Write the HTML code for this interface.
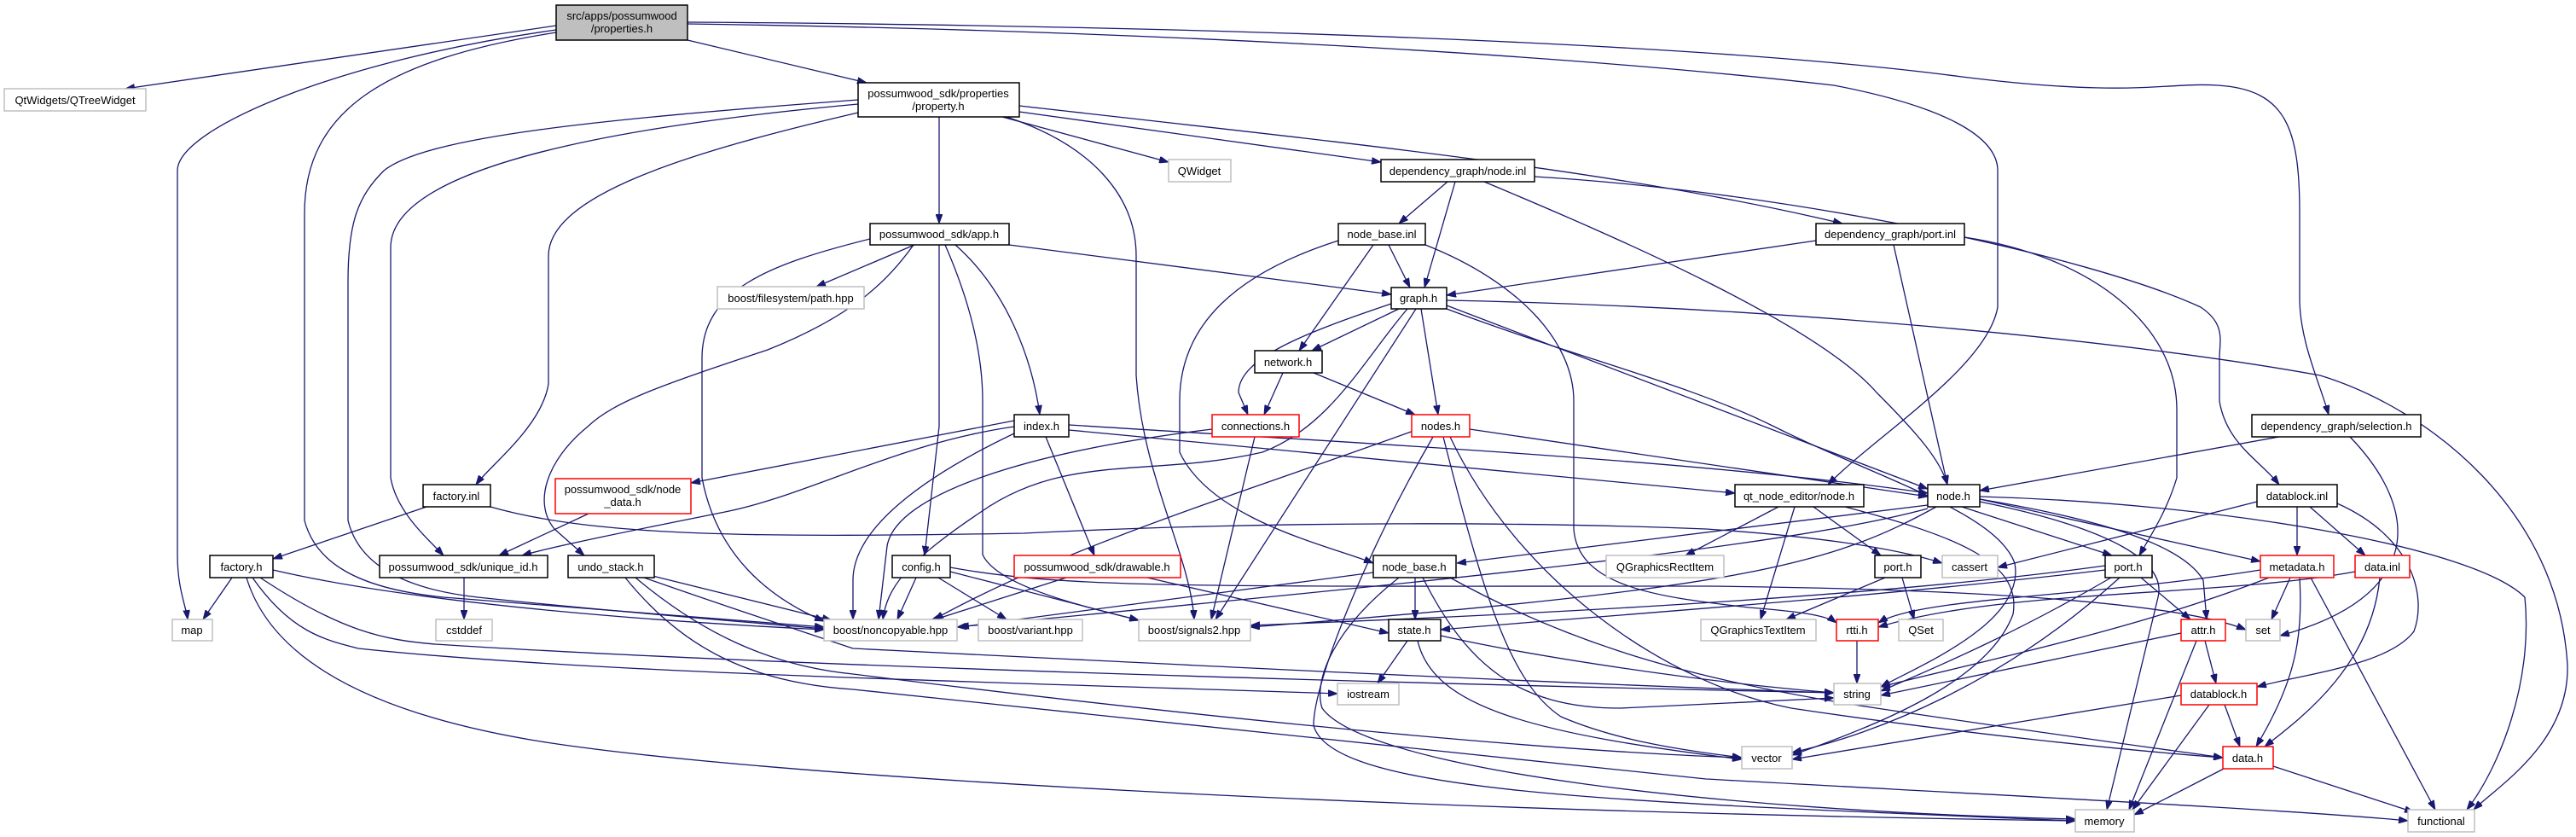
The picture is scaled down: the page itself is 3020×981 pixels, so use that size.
<!DOCTYPE html>
<html><head><meta charset="utf-8"><style>
html,body{margin:0;padding:0;background:#fff;}
svg{display:block}
text{font-family:"Liberation Sans",Arial,sans-serif;font-size:13px;fill:#000}
.e{fill:none;stroke:#191970;stroke-width:1.3}
.b{fill:#fff;stroke:#000;stroke-width:1.5}
.g{fill:#fff;stroke:#bfbfbf;stroke-width:1.5}
.r{fill:#fff;stroke:#ff0000;stroke-width:1.5}
</style></head><body>
<svg width="3020" height="981" viewBox="0 0 3020 981" xmlns="http://www.w3.org/2000/svg">
<defs><marker id="a" viewBox="0 0 10 10" refX="10" refY="5" markerWidth="11" markerHeight="8" markerUnits="userSpaceOnUse" orient="auto" preserveAspectRatio="none"><path d="M0,0 L10,5 L0,10 z" fill="#191970" stroke="#191970"/></marker></defs>
<g class="e" marker-end="url(#a)">
<path d="M652,30 L147,104"/>
<path d="M806,47 L1016,97"/>
<path d="M652,35 C400,70 208,150 208,200 L208,650 C208,690 218,710 220,726"/>
<path d="M652,38 C450,70 357,130 357,250 L357,610 C370,660 420,690 520,700 C700,715 850,725 966,735"/>
<path d="M1006,117 C700,140 500,160 450,200 C420,230 408,260 408,330 L408,610 C420,660 470,690 560,700 C700,715 850,727 966,737"/>
<path d="M1006,122 C700,150 458,200 458,290 L458,560 C465,600 500,630 520,651"/>
<path d="M1006,132 C800,180 643,230 643,300 L643,450 C635,500 575,545 558,568"/>
<path d="M1101,137 L1101,262"/>
<path d="M1175,137 L1370,190"/>
<path d="M1195,131 L1619,190"/>
<path d="M1195,124 C1600,170 1900,200 2160,262"/>
<path d="M1180,137 C1280,170 1332,230 1332,300 L1332,440 C1340,560 1395,650 1400,726"/>
<path d="M806,28 C1300,35 1800,60 2150,100 C2280,125 2342,160 2342,200 L2342,360 C2330,430 2200,510 2143,568"/>
<path d="M806,26 C1400,30 2000,50 2300,90 C2500,115 2540,96 2600,100 C2680,105 2696,150 2696,250 L2696,350 C2696,400 2720,450 2730,486"/>
<path d="M1697,213 L1640,262"/>
<path d="M1706,213 L1670,337"/>
<path d="M1740,213 C1900,280 2130,380 2200,460 C2250,510 2275,540 2283,568"/>
<path d="M1799,207 C2100,225 2450,300 2580,360 C2610,380 2602,400 2602,420 L2602,470 C2610,520 2650,540 2672,568"/>
<path d="M1628,287 L1653,337"/>
<path d="M1610,287 L1523,411"/>
<path d="M1569,282 C1450,320 1383,380 1383,470 L1383,530 C1420,610 1560,640 1610,660"/>
<path d="M1671,287 C1780,330 1845,400 1845,470 L1845,620 C1850,690 1950,700 2050,712 C2100,716 2140,720 2153,730"/>
<path d="M2129,282 L1696,346"/>
<path d="M2220,287 L2283,568"/>
<path d="M2303,278 C2450,300 2552,380 2552,480 L2552,560 C2540,600 2520,630 2508,651"/>
<path d="M1183,287 L1631,345"/>
<path d="M1072,287 L957,336"/>
<path d="M1020,280 C900,310 823,340 823,420 L823,560 C840,650 900,700 966,728"/>
<path d="M1071,287 C1040,330 1000,370 900,410 C780,450 720,470 689,500 C640,540 625,590 650,620 L685,651"/>
<path d="M1101,287 L1101,500 L1084,651"/>
<path d="M1108,287 C1140,360 1152,420 1152,470 L1152,650 C1170,690 1290,715 1335,727"/>
<path d="M1120,287 C1180,340 1210,420 1219,486"/>
<path d="M1640,362 L1538,411"/>
<path d="M1631,356 C1530,390 1452,420 1452,460 L1463,486"/>
<path d="M1666,362 L1686,486"/>
<path d="M1696,358 L2260,573"/>
<path d="M1696,362 C1850,420 1980,450 2080,500 C2200,560 2340,600 2362,660 C2375,730 2250,780 2205,805"/>
<path d="M1696,352 C2100,360 2500,400 2720,440 C2850,480 3000,600 3010,780 C3012,870 2930,920 2900,949"/>
<path d="M1660,362 L1425,726"/>
<path d="M1650,362 C1600,420 1560,500 1480,530 C1350,560 1250,530 1150,600 C1060,660 1040,690 1035,726"/>
<path d="M1504,437 L1482,486"/>
<path d="M1540,437 L1659,486"/>
<path d="M1471,512 L1420,726"/>
<path d="M1421,503 C1200,530 1050,580 1040,640 L1030,726"/>
<path d="M1723,503 L2260,582"/>
<path d="M1657,505 C1450,580 1250,640 1095,726"/>
<path d="M1680,512 C1600,650 1540,800 1540,850 C1560,930 1900,940 2433,962"/>
<path d="M1692,512 C1740,700 1770,800 1830,840 C1900,870 1980,880 2042,888"/>
<path d="M1700,512 C1780,680 1950,800 2100,830 C2300,860 2500,880 2606,888"/>
<path d="M1189,493 L810,566"/>
<path d="M1189,500 C1050,520 950,580 850,600 C750,620 650,640 612,651"/>
<path d="M1189,508 C1080,560 1000,620 1000,680 L1000,726"/>
<path d="M1226,512 L1283,651"/>
<path d="M1253,498 C1600,520 2000,540 2260,578"/>
<path d="M1253,504 L2034,578"/>
<path d="M690,602 L585,651"/>
<path d="M500,594 L320,655"/>
<path d="M575,594 C700,630 900,630 1200,625 C1500,610 1800,612 2000,620 C2150,630 2230,645 2277,660"/>
<path d="M272,677 L238,726"/>
<path d="M320,668 C500,710 800,730 966,738"/>
<path d="M305,677 C400,740 450,750 510,755 C900,780 1600,800 2150,812"/>
<path d="M296,677 C340,740 380,750 420,760 C700,790 1200,800 1568,813"/>
<path d="M289,677 C320,780 450,840 640,870 C900,910 1600,950 2433,962"/>
<path d="M544,677 L544,726"/>
<path d="M765,675 L975,727"/>
<path d="M755,677 C820,700 880,720 1000,760 C1400,780 1800,800 2150,812"/>
<path d="M745,677 C820,740 900,780 1000,790 C1400,840 1800,880 2042,888"/>
<path d="M733,677 C800,760 880,800 1000,808 C1400,850 1800,890 2000,913 C2400,935 2700,950 2823,962"/>
<path d="M1074,677 L1052,726"/>
<path d="M1100,677 L1180,726"/>
<path d="M1114,670 L1335,727"/>
<path d="M1114,665 C1250,690 1400,687 2000,687 C2300,690 2550,705 2633,738"/>
<path d="M1250,677 L1090,728"/>
<path d="M1345,677 L1628,742"/>
<path d="M1610,671 L1125,735"/>
<path d="M1659,677 L1659,726"/>
<path d="M1640,677 C1560,740 1540,800 1550,830 C1600,900 2000,950 2433,960"/>
<path d="M1668,677 C1720,780 1780,830 1900,830 L2150,818"/>
<path d="M1700,677 C1850,760 2000,800 2200,830 C2400,860 2550,880 2606,888"/>
<path d="M1650,751 L1615,801"/>
<path d="M1689,745 C1800,770 2000,800 2150,812"/>
<path d="M1662,751 C1680,830 1800,860 2042,890"/>
<path d="M2085,594 L1976,651"/>
<path d="M2104,594 L2064,726"/>
<path d="M2126,594 L2205,651"/>
<path d="M2163,594 C2300,630 2370,660 2360,720 C2330,800 2200,850 2101,885"/>
<path d="M2260,592 L1708,660"/>
<path d="M2300,594 L2476,651"/>
<path d="M2321,585 L2650,658"/>
<path d="M2321,585 C2470,610 2560,640 2583,680 L2587,726"/>
<path d="M2321,588 C2480,620 2540,660 2530,700 L2470,949"/>
<path d="M2321,582 C2600,590 2900,640 2960,700 C2970,800 2930,900 2892,949"/>
<path d="M2260,596 C2100,640 1700,680 1122,735"/>
<path d="M2270,594 C2150,660 2050,690 1466,735"/>
<path d="M2210,677 L2094,726"/>
<path d="M2230,677 L2244,726"/>
<path d="M2510,677 L2568,726"/>
<path d="M2475,677 C2350,750 2250,790 2205,810"/>
<path d="M2485,677 C2350,800 2200,860 2101,882"/>
<path d="M2468,663 C2200,700 1800,720 1466,733"/>
<path d="M2468,668 C2200,700 1900,720 1689,738"/>
<path d="M2685,677 L2663,726"/>
<path d="M2660,677 C2500,740 2300,780 2205,805"/>
<path d="M2696,677 C2700,750 2690,800 2645,875"/>
<path d="M2709,677 L2855,949"/>
<path d="M2650,668 C2450,700 2250,700 2202,730"/>
<path d="M2790,677 C2780,780 2700,840 2655,875"/>
<path d="M2761,670 C2600,700 2350,690 2202,735"/>
<path d="M2693,594 L2693,651"/>
<path d="M2708,594 L2773,651"/>
<path d="M2646,588 L2342,665"/>
<path d="M2740,590 C2830,630 2845,700 2830,740 C2800,780 2700,790 2646,805"/>
<path d="M2672,512 L2321,575"/>
<path d="M2755,512 C2840,600 2840,700 2673,745"/>
<path d="M2585,751 L2598,801"/>
<path d="M2575,751 L2496,949"/>
<path d="M2557,742 L2205,815"/>
<path d="M2177,751 L2177,801"/>
<path d="M2608,826 L2626,875"/>
<path d="M2590,826 L2500,949"/>
<path d="M2557,815 L2101,890"/>
<path d="M2607,901 L2502,955"/>
<path d="M2665,898 L2830,952"/>
</g>
<g>
<rect x="652" y="6" width="154" height="41" fill="#bfbfbf" stroke="#000" stroke-width="1.5"/>
<text x="729" y="23" text-anchor="middle">src/apps/possumwood</text><text x="729" y="38" text-anchor="middle">/properties.h</text>
<rect class="g" x="5" y="104" width="166" height="26"/><text x="88" y="122" text-anchor="middle">QtWidgets/QTreeWidget</text>
<rect class="g" x="841" y="336" width="172" height="26"/><text x="927" y="354" text-anchor="middle">boost/filesystem/path.hpp</text>
<rect class="b" x="1006" y="97" width="189" height="40"/><text x="1100" y="114" text-anchor="middle">possumwood_sdk/properties</text><text x="1100" y="129" text-anchor="middle">/property.h</text>
<rect class="g" x="1370" y="187" width="73" height="26"/><text x="1406" y="205" text-anchor="middle">QWidget</text>
<rect class="b" x="1619" y="187" width="180" height="26"/><text x="1709" y="205" text-anchor="middle">dependency_graph/node.inl</text>
<rect class="b" x="1020" y="262" width="163" height="25"/><text x="1101" y="279" text-anchor="middle">possumwood_sdk/app.h</text>
<rect class="b" x="1569" y="262" width="102" height="25"/><text x="1620" y="279" text-anchor="middle">node_base.inl</text>
<rect class="b" x="2129" y="262" width="174" height="25"/><text x="2216" y="279" text-anchor="middle">dependency_graph/port.inl</text>
<rect class="b" x="1631" y="337" width="65" height="25"/><text x="1663" y="354" text-anchor="middle">graph.h</text>
<rect class="b" x="1471" y="411" width="79" height="26"/><text x="1510" y="429" text-anchor="middle">network.h</text>
<rect class="r" x="1421" y="486" width="102" height="26"/><text x="1472" y="504" text-anchor="middle">connections.h</text>
<rect class="r" x="1655" y="486" width="68" height="26"/><text x="1689" y="504" text-anchor="middle">nodes.h</text>
<rect class="b" x="1189" y="486" width="64" height="26"/><text x="1221" y="504" text-anchor="middle">index.h</text>
<rect class="b" x="2640" y="486" width="198" height="26"/><text x="2739" y="504" text-anchor="middle">dependency_graph/selection.h</text>
<rect class="b" x="496" y="568" width="79" height="26"/><text x="535" y="586" text-anchor="middle">factory.inl</text>
<rect class="r" x="651" y="561" width="159" height="41"/><text x="730" y="578" text-anchor="middle">possumwood_sdk/node</text><text x="730" y="593" text-anchor="middle">_data.h</text>
<rect class="b" x="2034" y="568" width="151" height="26"/><text x="2109" y="586" text-anchor="middle">qt_node_editor/node.h</text>
<rect class="b" x="2260" y="568" width="61" height="26"/><text x="2290" y="586" text-anchor="middle">node.h</text>
<rect class="b" x="2646" y="568" width="94" height="26"/><text x="2693" y="586" text-anchor="middle">datablock.inl</text>
<rect class="b" x="246" y="651" width="74" height="26"/><text x="283" y="669" text-anchor="middle">factory.h</text>
<rect class="b" x="445" y="651" width="197" height="26"/><text x="543" y="669" text-anchor="middle">possumwood_sdk/unique_id.h</text>
<rect class="b" x="666" y="651" width="101" height="26"/><text x="716" y="669" text-anchor="middle">undo_stack.h</text>
<rect class="b" x="1046" y="651" width="68" height="26"/><text x="1080" y="669" text-anchor="middle">config.h</text>
<rect class="r" x="1189" y="651" width="195" height="26"/><text x="1286" y="669" text-anchor="middle">possumwood_sdk/drawable.h</text>
<rect class="b" x="1610" y="651" width="97" height="26"/><text x="1658" y="669" text-anchor="middle">node_base.h</text>
<rect class="g" x="1883" y="651" width="138" height="26"/><text x="1952" y="669" text-anchor="middle">QGraphicsRectItem</text>
<rect class="b" x="2198" y="651" width="54" height="26"/><text x="2225" y="669" text-anchor="middle">port.h</text>
<rect class="g" x="2277" y="651" width="65" height="26"/><text x="2309" y="669" text-anchor="middle">cassert</text>
<rect class="b" x="2468" y="651" width="55" height="26"/><text x="2495" y="669" text-anchor="middle">port.h</text>
<rect class="r" x="2650" y="651" width="86" height="26"/><text x="2693" y="669" text-anchor="middle">metadata.h</text>
<rect class="r" x="2761" y="651" width="64" height="26"/><text x="2793" y="669" text-anchor="middle">data.inl</text>
<rect class="g" x="202" y="726" width="47" height="25"/><text x="225" y="743" text-anchor="middle">map</text>
<rect class="g" x="511" y="726" width="66" height="25"/><text x="544" y="743" text-anchor="middle">cstddef</text>
<rect class="g" x="966" y="726" width="156" height="25"/><text x="1044" y="743" text-anchor="middle">boost/noncopyable.hpp</text>
<rect class="g" x="1147" y="726" width="122" height="25"/><text x="1208" y="743" text-anchor="middle">boost/variant.hpp</text>
<rect class="g" x="1335" y="726" width="131" height="25"/><text x="1400" y="743" text-anchor="middle">boost/signals2.hpp</text>
<rect class="b" x="1628" y="726" width="61" height="25"/><text x="1658" y="743" text-anchor="middle">state.h</text>
<rect class="g" x="1994" y="726" width="135" height="25"/><text x="2061" y="743" text-anchor="middle">QGraphicsTextItem</text>
<rect class="r" x="2153" y="726" width="49" height="25"/><text x="2177" y="743" text-anchor="middle">rtti.h</text>
<rect class="g" x="2226" y="726" width="52" height="25"/><text x="2252" y="743" text-anchor="middle">QSet</text>
<rect class="r" x="2557" y="726" width="52" height="25"/><text x="2583" y="743" text-anchor="middle">attr.h</text>
<rect class="g" x="2633" y="726" width="40" height="25"/><text x="2653" y="743" text-anchor="middle">set</text>
<rect class="g" x="1568" y="801" width="72" height="25"/><text x="1604" y="818" text-anchor="middle">iostream</text>
<rect class="g" x="2150" y="801" width="55" height="25"/><text x="2177" y="818" text-anchor="middle">string</text>
<rect class="r" x="2557" y="801" width="89" height="25"/><text x="2601" y="818" text-anchor="middle">datablock.h</text>
<rect class="g" x="2042" y="875" width="59" height="26"/><text x="2071" y="893" text-anchor="middle">vector</text>
<rect class="r" x="2606" y="875" width="59" height="26"/><text x="2635" y="893" text-anchor="middle">data.h</text>
<rect class="g" x="2433" y="949" width="69" height="26"/><text x="2467" y="967" text-anchor="middle">memory</text>
<rect class="g" x="2823" y="949" width="78" height="26"/><text x="2862" y="967" text-anchor="middle">functional</text>
</g>
</svg>
</body></html>
